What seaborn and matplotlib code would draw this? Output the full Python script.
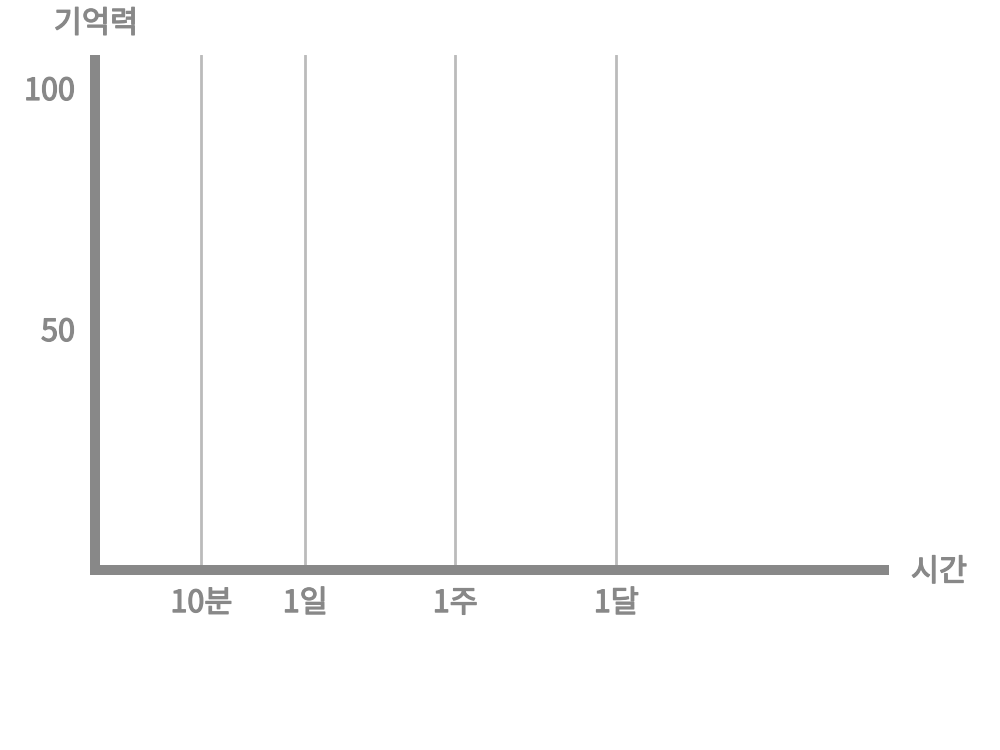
import matplotlib
import matplotlib.pyplot as plt
import matplotlib.patheffects as pe
import seaborn as sns

matplotlib.use("Agg")

# time markers on the horizontal axis (axis runs 0..100)
time_labels = ["10분", "1일", "1주", "1달"]
time_positions = [13.55, 26.7, 45.7, 66.1]

# memory ticks on the vertical axis
memory_ticks = [50, 100]
memory_labels = ["50", "100"]

x_label = "시간"
y_label = "기억력"

sns.set_theme(style="white")
plt.rcParams["font.family"] = ["Noto Sans CJK KR", "DejaVu Sans"]

axis_color = "#888888"
grid_color = "#bbbbbb"
# regular weight thickened a bit to look like a medium cut
thicken = [pe.withStroke(linewidth=0.9, foreground=axis_color)]
text_kw = dict(fontsize=22, color=axis_color, path_effects=thicken)

fig = plt.figure(figsize=(10, 7.5), dpi=100)
ax = fig.add_axes([0.0945, 0.24, 0.7895, 0.6867])

ax.set_xlim(0, 100)
ax.set_ylim(0, 106.85)

for x in time_positions:
    ax.axvline(x, color=grid_color, linewidth=2, zorder=1)

sns.despine(ax=ax, top=True, right=True)
for side in ("left", "bottom"):
    ax.spines[side].set_color(axis_color)
    ax.spines[side].set_linewidth(7.2)
    ax.spines[side].set_zorder(3)
ax.spines["left"].set_capstyle("butt")
ax.spines["bottom"].set_capstyle("projecting")

ax.set_xticks(time_positions, time_labels)
ax.set_yticks(memory_ticks, memory_labels)
ax.tick_params(axis="both", length=0, labelsize=22, colors=axis_color)
for lbl in ax.get_xticklabels() + ax.get_yticklabels():
    lbl.set_path_effects(thicken)
ax.tick_params(axis="x", pad=13)
ax.tick_params(axis="y", pad=14)

fig.text(0.096, 0.968, y_label, ha="center", va="center", **text_kw)
fig.text(0.939, 0.237, x_label, ha="center", va="center", **text_kw)

fig.savefig("out.png", dpi=100)
plt.close(fig)
